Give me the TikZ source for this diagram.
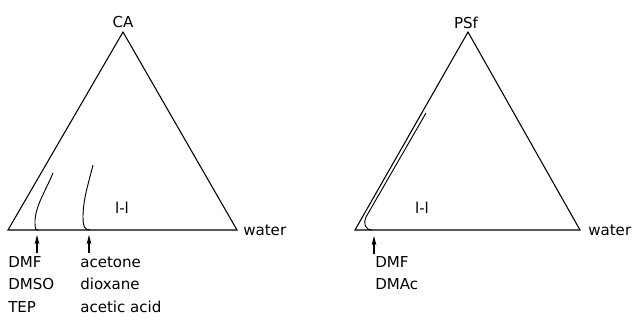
\documentclass[tikz,border=0pt]{standalone}
\usepackage{fontspec}
\setmainfont{DejaVu Sans}
\usetikzlibrary{arrows.meta}

\begin{document}
\begin{tikzpicture}[x=0.75pt,y=-0.75pt,>={Stealth[length=7pt,width=3.6pt,inset=2pt]},
  every node/.style={font=\fontsize{11.3}{13}\selectfont,inner sep=0pt}]
  \useasboundingbox (0,0) rectangle (633,322);
  % CA diagram
  \coordinate (ca) at (123,32);
  \coordinate (cl) at (8,230);
  \coordinate (cr) at (237,230);
  \draw[line width=0.8pt] (cl) -- (ca) -- (cr) -- cycle;
  \node[anchor=base] (catop) at (123,27) {CA};
  \node[anchor=base west] (cwater) at (243,235) {water};
  \node[anchor=base] (cll) at (122,213) {l-l};
  \draw[line width=0.7pt] (53,173) .. controls (46,190) and (36,205) .. (35,220)
    .. controls (35,228) and (35,230) .. (38,230);
  \draw[line width=0.7pt] (93,165) .. controls (88,185) and (83,200) .. (83,217)
    .. controls (83,227) and (85,230) .. (90,230);
  \coordinate (cdfoot) at (37,253);
  \coordinate (cdtip) at (37,235);
  \coordinate (cafoot) at (89,253);
  \coordinate (catip) at (89,235);
  \draw[->,line width=0.8pt] (cdfoot) -- (cdtip);
  \draw[->,line width=0.8pt] (cafoot) -- (catip);
  \foreach \lab/\y in {DMF/267,DMSO/289,TEP/312} {
    \node[anchor=base west] (c\lab) at (8,\y) {\lab};
  }
  \foreach \lab/\y [count=\i] in {acetone/267,dioxane/289,acetic acid/312} {
    \node[anchor=base west] (cs\i) at (80,\y) {\lab};
  }
  % PSf diagram
  \coordinate (pa) at (468,32);
  \coordinate (pl) at (355,230);
  \coordinate (pr) at (580,230);
  \draw[line width=0.8pt] (pl) -- (pa) -- (pr) -- cycle;
  \node[anchor=base] (patop) at (466,28) {PSf};
  \node[anchor=base west] (pwater) at (588,235) {water};
  \node[anchor=base] (pll) at (422,213) {l-l};
  \draw[line width=0.7pt] (426,113) -- (366,217)
    .. controls (363,223) and (365,230) .. (372,230);
  \coordinate (pdfoot) at (374,254);
  \coordinate (pdtip) at (374,236);
  \draw[->,line width=0.8pt] (pdfoot) -- (pdtip);
  \foreach \lab/\y in {DMF/267,DMAc/289} {
    \node[anchor=base west] (p\lab) at (375,\y) {\lab};
  }
\end{tikzpicture}
\end{document}
